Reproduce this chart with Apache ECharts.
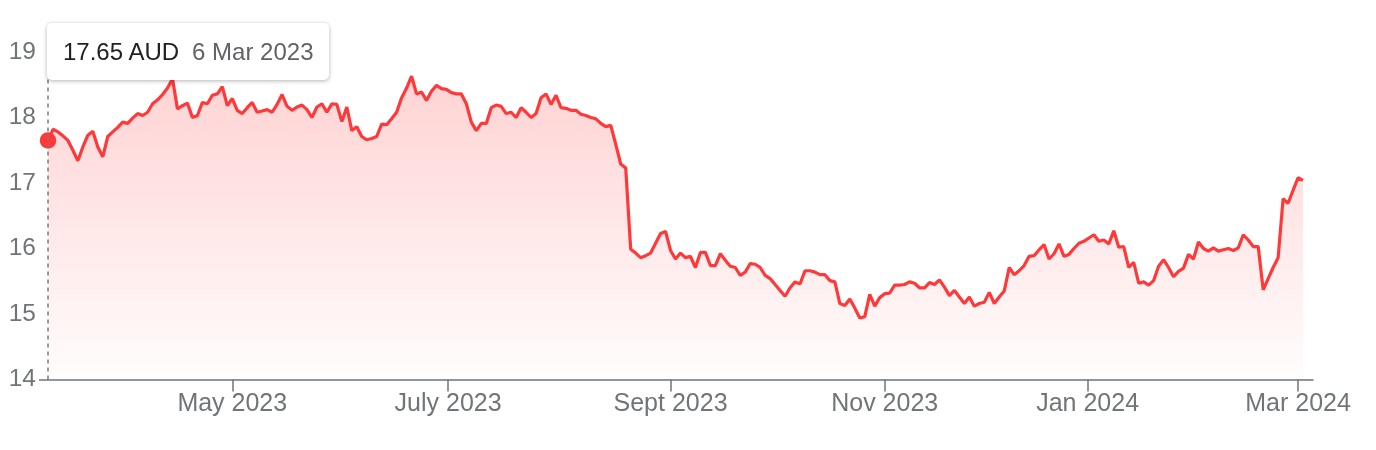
<!DOCTYPE html>
<html>
<head>
<meta charset="utf-8">
<script src="https://cdn.jsdelivr.net/npm/echarts@6/dist/echarts.min.js"></script>
<style>
  html, body { margin: 0; padding: 0; background: #fff; }
  #chart { width: 1376px; height: 450px; }
</style>
</head>
<body>
<div id="chart"></div>
<script>
// closing prices, one per ASX trading day from 6 Mar 2023
const closes = [
  17.65, 17.82, 17.78, 17.72, 17.65, 17.50, 17.34, 17.55, 17.73, 17.79,
  17.55, 17.40, 17.71, 17.78, 17.85, 17.93, 17.91, 17.99, 18.06, 18.03,
  18.08, 18.21, 18.27, 18.35, 18.45, 18.59, 18.13, 18.18, 18.22, 18.00,
  18.03, 18.23, 18.21, 18.34, 18.36, 18.47, 18.18, 18.29, 18.11, 18.06,
  18.15, 18.23, 18.08, 18.10, 18.12, 18.08, 18.20, 18.35, 18.17, 18.11,
  18.16, 18.19, 18.12, 18.00, 18.16, 18.21, 18.08, 18.21, 18.20, 17.94,
  18.16, 17.80, 17.86, 17.71, 17.66, 17.68, 17.71, 17.90, 17.89, 17.98,
  18.08, 18.30, 18.45, 18.63, 18.36, 18.39, 18.26, 18.40, 18.49, 18.44,
  18.43, 18.38, 18.36, 18.36, 18.21, 17.93, 17.80, 17.91, 17.91, 18.15,
  18.19, 18.17, 18.06, 18.08, 18.00, 18.15, 18.08, 18.00, 18.06, 18.30,
  18.36, 18.20, 18.34, 18.15, 18.14, 18.11, 18.11, 18.05, 18.03, 18.00,
  17.98, 17.91, 17.86, 17.88, 17.59, 17.29, 17.23, 15.99, 15.93, 15.86,
  15.89, 15.93, 16.08, 16.23, 16.26, 15.97, 15.84, 15.93, 15.86, 15.88,
  15.71, 15.94, 15.94, 15.74, 15.74, 15.92, 15.82, 15.73, 15.71, 15.59,
  15.64, 15.77, 15.76, 15.71, 15.59, 15.54, 15.45, 15.36, 15.27, 15.40,
  15.49, 15.46, 15.66, 15.66, 15.64, 15.60, 15.60, 15.51, 15.49, 15.16,
  15.13, 15.23, 15.09, 14.94, 14.96, 15.30, 15.12, 15.25, 15.31, 15.32,
  15.44, 15.44, 15.45, 15.49, 15.47, 15.40, 15.40, 15.48, 15.45, 15.52,
  15.41, 15.28, 15.36, 15.26, 15.16, 15.26, 15.12, 15.16, 15.18, 15.33,
  15.16, 15.26, 15.35, 15.71, 15.60, 15.66, 15.74, 15.88, 15.89, 15.98,
  16.06, 15.84, 15.92, 16.07, 15.88, 15.91, 16.00, 16.08, 16.11, 16.16,
  16.21, 16.11, 16.13, 16.07, 16.27, 16.02, 16.03, 15.71, 15.79, 15.47,
  15.49, 15.44, 15.51, 15.73, 15.83, 15.71, 15.57, 15.65, 15.70, 15.91,
  15.84, 16.10, 16.00, 15.96, 16.01, 15.96, 15.98, 16.00, 15.97, 16.01,
  16.21, 16.13, 16.03, 16.03, 15.37, 15.54, 15.71, 15.86, 16.76, 16.69,
  16.89, 17.08, 17.04
]

// market closed on these weekdays
const holidays = ['2023-04-07', '2023-04-10', '2023-04-25', '2023-06-12',
  '2023-12-25', '2023-12-26', '2024-01-01', '2024-01-26']

const tickDates = ['2023-05-01', '2023-07-01', '2023-09-01', '2023-11-01', '2024-01-01', '2024-03-01']
const tickLabels = ['May 2023', 'July 2023', 'Sept 2023', 'Nov 2023', 'Jan 2024', 'Mar 2024']
const yTicks = [14, 15, 16, 17, 18, 19]

const currency = 'AUD'
const monthNames = ['Jan', 'Feb', 'Mar', 'Apr', 'May', 'Jun', 'Jul', 'Aug', 'Sep', 'Oct', 'Nov', 'Dec']

function buildTradingDays(from, to) {
  const days = []
  const d = new Date(from + 'T00:00:00Z')
  const end = new Date(to + 'T00:00:00Z')
  while (d <= end) {
    const iso = d.toISOString().slice(0, 10)
    const wd = d.getUTCDay()
    if (wd !== 0 && wd !== 6 && holidays.indexOf(iso) < 0) days.push(iso)
    d.setUTCDate(d.getUTCDate() + 1)
  }
  return days
}

const tradingDays = buildTradingDays('2023-03-06', '2024-03-06')

// position of a calendar date on the trading-day axis
function dayPos(iso) {
  const t = Date.parse(iso + 'T00:00:00Z')
  for (let i = 0; i < tradingDays.length - 1; i++) {
    const a = Date.parse(tradingDays[i] + 'T00:00:00Z')
    const b = Date.parse(tradingDays[i + 1] + 'T00:00:00Z')
    if (t >= a && t < b) return i + (t - a) / (b - a)
  }
  return tradingDays.length - 1
}

const tickPos = tickDates.map(dayPos)

function fmtDate(iso) {
  const d = new Date(iso + 'T00:00:00Z')
  return d.getUTCDate() + ' ' + monthNames[d.getUTCMonth()] + ' ' + d.getUTCFullYear()
}

const font = '"Liberation Sans", Arial, Helvetica, sans-serif'
const red = '#ec3434'
const axisGrey = '#70757a'

const chart = echarts.init(document.getElementById('chart'))

chart.setOption({
  animation: false,
  grid: { left: 48, right: 63, top: 52, bottom: 70.5, containLabel: false },
  tooltip: {
    trigger: 'axis',
    triggerOn: 'none',
    alwaysShowContent: true,
    transitionDuration: 0,
    backgroundColor: '#fff',
    borderWidth: 0,
    padding: [0, 16],
    textStyle: { fontFamily: font, fontSize: 24 },
    extraCssText: 'height:57px;line-height:57px;border-radius:5px;box-shadow:0 1px 4px rgba(0,0,0,0.3);',
    position: [47, 23],
    axisPointer: {
      type: 'line',
      lineStyle: { color: '#7a7a7a', width: 1.5, type: [4, 4] }
    },
    formatter: (params) => {
      const p = params[0]
      const i = p.dataIndex
      return '<span style="color:#202124">' + closes[i].toFixed(2) + ' ' + currency + '</span>' +
        '<span style="color:#5f6368;margin-left:13px">' + fmtDate(tradingDays[i]) + '</span>'
    }
  },
  xAxis: {
    type: 'value',
    min: 0,
    max: tradingDays.length - 1,
    splitLine: { show: false },
    axisLine: { show: true, lineStyle: { color: axisGrey, width: 1.5 } },
    axisTick: {
      show: true,
      customValues: tickPos,
      length: 12,
      lineStyle: { color: axisGrey, width: 1.5 }
    },
    axisLabel: {
      customValues: tickPos,
      margin: 12,
      color: axisGrey,
      fontFamily: font,
      fontSize: 25,
      formatter: (val) => {
        const k = tickPos.findIndex(p => Math.abs(p - val) < 1e-6)
        return k >= 0 ? tickLabels[k] : ''
      }
    }
  },
  yAxis: {
    type: 'value',
    min: yTicks[0],
    max: yTicks[yTicks.length - 1],
    interval: 1,
    axisLine: { show: false },
    axisTick: {
      show: true,
      customValues: [yTicks[0]],
      length: 9,
      lineStyle: { color: axisGrey, width: 1.5 }
    },
    splitLine: { lineStyle: { color: '#ededed', width: 1 } },
    axisLabel: { color: axisGrey, fontFamily: font, fontSize: 24.5, margin: 12 }
  },
  series: [
    {
      type: 'line',
      data: closes.map((v, i) => [i, v]),
      symbol: 'none',
      lineStyle: { color: red, width: 3.2 },
      areaStyle: {
        color: new echarts.graphic.LinearGradient(0, 0, 0, 1, [
          { offset: 0, color: 'rgba(232,96,96,0.42)' },
          { offset: 1, color: 'rgba(232,96,96,0.02)' }
        ])
      },
      z: 3
    },
    {
      type: 'scatter',
      data: [[0, closes[0]]],
      symbolSize: 15,
      itemStyle: { color: red, opacity: 1 },
      silent: true,
      z: 4
    }
  ]
})

chart.dispatchAction({ type: 'showTip', seriesIndex: 0, dataIndex: 0 })
</script>
</body>
</html>
